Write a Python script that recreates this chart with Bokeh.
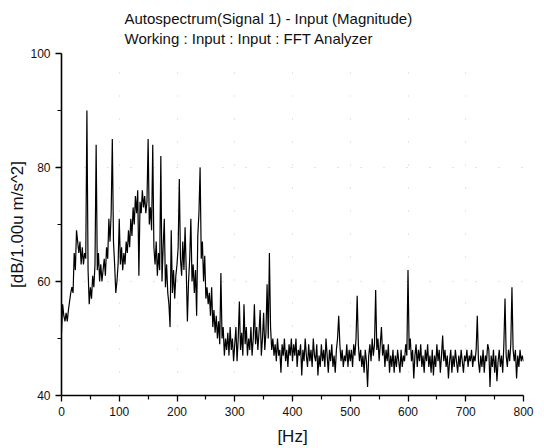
import numpy as np
from bokeh.plotting import figure
from bokeh.models import Title, FixedTicker, Range1d
from bokeh.embed import file_html
from bokeh.resources import INLINE

# Autospectrum levels in dB, 2 Hz bins
level_000_098 = [51, 56, 54, 53, 54.5, 53, 55, 56.5, 58, 59,
                 58, 65, 62, 69, 67, 65, 67, 63, 66, 63,
                 65, 64, 90, 62, 56, 59, 57, 61, 59, 63,
                 84, 62, 65, 60, 63, 60, 62, 64, 61, 66,
                 64, 71, 67, 72, 85, 67, 63, 58, 60, 63]
level_100_198 = [71, 63, 66, 62, 65, 63, 67, 65, 69, 66,
                 71, 68, 73, 70, 75, 72, 76, 61, 74, 72,
                 76, 73, 75, 72, 74, 85, 70, 73, 69, 84,
                 66, 63, 67, 61, 65, 62, 82, 60, 66, 71,
                 59, 63, 58, 56, 52, 69, 58, 62, 57, 61]
level_200_298 = [63, 66, 78, 64, 61, 67, 62, 69.5, 62, 53,
                 60, 64, 71, 60, 63, 58, 62, 54, 68, 72,
                 80, 64, 67, 60, 64.5, 57, 59, 56, 58, 54,
                 59, 52, 55, 51, 54, 50, 53, 49, 61.5, 50,
                 52, 47, 50, 48, 51, 47, 52, 48, 50, 46]
level_300_398 = [49, 52, 46, 50, 56.5, 48, 51, 47, 56, 49,
                 52, 47, 50, 48, 52, 47, 50, 56, 49, 52,
                 48, 51, 55, 47, 50, 54.5, 48, 51, 59.5, 50,
                 65, 52, 48, 50, 47, 49, 46, 50, 47, 48,
                 44, 49, 47, 50, 46, 48, 45, 49, 47, 50]
level_400_498 = [46, 49, 47, 50, 45, 48, 47, 49, 43.5, 48,
                 46, 50, 47, 45, 49, 46, 48, 45, 50, 47,
                 46, 49, 43.5, 47, 45, 49, 46, 48, 45, 50,
                 47, 44, 48, 46, 49, 45, 47, 44, 48, 50,
                 54, 49, 46, 48, 45, 47, 46, 49, 45, 48]
level_500_598 = [46, 48, 45, 49, 47, 50, 57.5, 49, 46, 48,
                 45, 47, 44, 48, 46, 41.5, 47, 49, 46, 50,
                 47, 49, 58.5, 48, 50, 46, 49, 52, 47, 49,
                 45, 48, 46, 49, 44, 47, 45, 48, 44, 47,
                 45, 48, 46, 44, 48, 45, 47, 46, 49, 47]
level_600_698 = [62, 48, 50, 46, 48, 43, 47, 49, 45, 48,
                 46, 49, 45, 47, 44, 48, 46, 49, 45, 47,
                 44, 48, 43.5, 47, 45, 49, 46, 48, 44, 47,
                 50.5, 46, 48, 45, 47, 43, 46, 48, 44, 47,
                 45, 48, 46, 44, 47, 45, 48, 46, 44, 47]
level_700_800 = [46, 48, 45, 47, 46, 48, 45, 47, 46, 48,
                 54, 46, 44, 47, 45, 48, 44, 47, 46, 49,
                 48, 41.5, 47, 45, 48, 44, 47, 42.5, 46, 48,
                 45, 47, 44, 49, 57, 47, 45, 48, 46, 49,
                 59, 48, 46, 48, 43, 47, 45, 48, 46, 47,
                 46]

levels = (level_000_098 + level_100_198 + level_200_298 + level_300_398 +
          level_400_498 + level_500_598 + level_600_698 + level_700_800)
bin_width_hz = 2
freqs = [i * bin_width_hz for i in range(len(levels))]

x_ticks = [0, 100, 200, 300, 400, 500, 600, 700, 800]
x_minor = [50, 150, 250, 350, 450, 550, 650, 750]
y_ticks = [40, 60, 80, 100]
y_minor = [50, 70, 90]

title_1 = "Autospectrum(Signal 1) - Input (Magnitude)"
title_2 = "Working : Input : Input : FFT Analyzer"

FONT = "Liberation Sans"

p = figure(width=536, height=448, output_backend="svg", toolbar_location=None,
           title=None, x_range=Range1d(0, 800), y_range=Range1d(40, 100),
           min_border_left=61, min_border_right=13, min_border_top=53,
           min_border_bottom=53)

t = Title(text=title_1 + "\n" + title_2, align="left", offset=63,
          text_font=FONT, text_font_size="15px", text_font_style="normal",
          text_color="#111111", text_line_height=1.2, standoff=12)
p.add_layout(t, "above")

p.line(freqs, levels, line_color="black", line_width=1.2)

p.outline_line_color = None
p.background_fill_color = "white"
p.border_fill_color = "white"

for g in (p.xgrid[0], p.ygrid[0]):
    g.grid_line_color = "#999999"
    g.grid_line_dash = "1 22"
    g.grid_line_alpha = 0.5
p.xgrid[0].ticker = FixedTicker(ticks=x_ticks)
p.ygrid[0].ticker = FixedTicker(ticks=y_ticks)

xa = p.xaxis[0]
xa.ticker = FixedTicker(ticks=x_ticks, minor_ticks=x_minor)
xa.axis_label = "[Hz]"
ya = p.yaxis[0]
ya.ticker = FixedTicker(ticks=y_ticks, minor_ticks=y_minor)
ya.axis_label = "[dB/1.00u m/s^2]"

for ax in (xa, ya):
    ax.axis_line_width = 1.6
    ax.axis_line_color = "black"
    ax.major_tick_line_color = "black"
    ax.minor_tick_line_color = "black"
    ax.major_tick_line_width = 1.3
    ax.minor_tick_line_width = 1.2
    ax.major_tick_in = 0
    ax.major_tick_out = 6
    ax.minor_tick_in = 0
    ax.minor_tick_out = 4
    ax.major_label_text_font = FONT
    ax.major_label_text_font_size = "12px"
    ax.major_label_text_color = "#111111"
    ax.axis_label_text_font = FONT
    ax.axis_label_text_font_size = "17px"
    ax.axis_label_text_font_style = "normal"
    ax.axis_label_text_color = "#111111"

xa.major_label_standoff = 5
xa.axis_label_standoff = 8
ya.major_label_standoff = 5
ya.axis_label_standoff = 0

open("out.html", "w").write(file_html(p, INLINE))
